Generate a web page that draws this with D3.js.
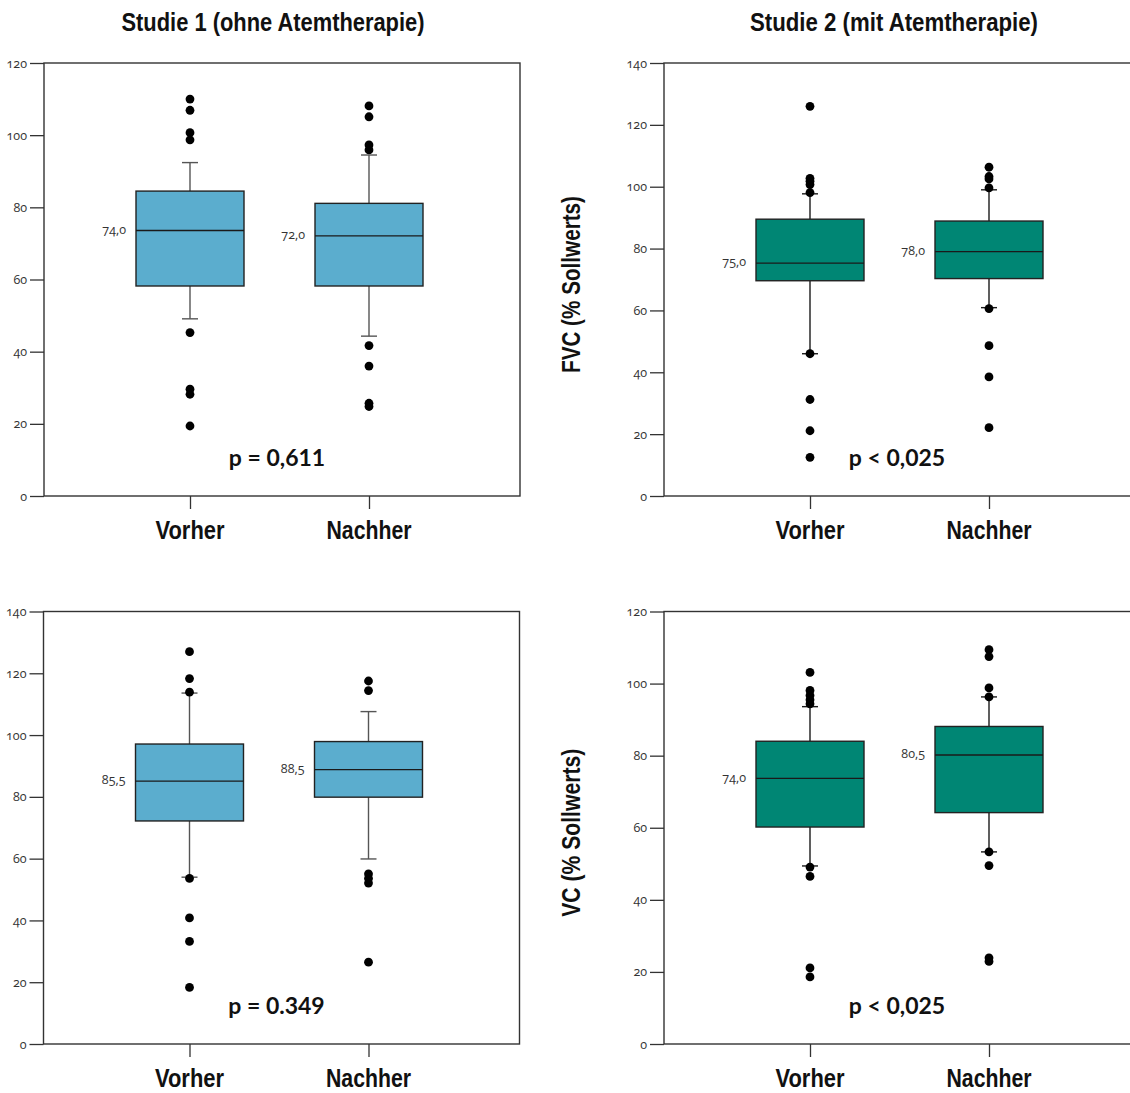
<!DOCTYPE html>
<html><head><meta charset="utf-8">
<script src="https://cdn.jsdelivr.net/npm/d3@7"></script>
<style>
html,body{margin:0;padding:0;background:#fff;}
svg{display:block;}
.tick text{font-family:"Open Sans",Lato,sans-serif;font-size:12.5px;fill:#333;font-variant-numeric:oldstyle-nums;font-feature-settings:"onum" 1;}
</style></head>
<body>
<script>
// ---------- data ----------
const categories = ["Vorher", "Nachher"];
const columnTitles = ["Studie 1 (ohne Atemtherapie)", "Studie 2 (mit Atemtherapie)"];
const rowTitles = ["FVC (% Sollwerts)", "VC (% Sollwerts)"];
const pValues = ["p = 0,611", "p < 0,025", "p = 0.349", "p < 0,025"];
const yMax = [120, 140, 140, 120];
const yTicks1 = [0, 20, 40, 60, 80, 100, 120];
const yTicks2 = [0, 20, 40, 60, 80, 100, 120, 140];

// box statistics: [whiskerLow, q1, median, q3, whiskerHigh]
const s1Fvc = [[49.1, 58.2, 73.6, 84.5, 92.4], [44.3, 58.2, 72.1, 81.1, 94.5]];
const s2Fvc = [[46.0, 69.6, 75.3, 89.5, 97.7], [60.9, 70.3, 79.0, 88.9, 99.0]];
const s1Vc  = [[54.0, 72.2, 85.1, 97.1, 113.6], [59.9, 79.9, 88.8, 97.9, 107.6]];
const s2Vc  = [[49.4, 60.2, 73.7, 84.0, 93.6], [53.3, 64.2, 80.2, 88.1, 96.3]];

// outliers per category
const s1FvcOut = [[110.0, 106.9, 100.7, 98.7, 45.3, 29.6, 28.2, 19.4], [108.1, 105.1, 97.3, 95.9, 41.7, 36.0, 25.7, 24.8]];
const s2FvcOut = [[126.0, 102.7, 101.8, 100.7, 98.1, 46.0, 31.2, 21.1, 12.5], [106.3, 103.3, 102.5, 99.6, 60.6, 48.6, 38.5, 22.1]];
const s1VcOut  = [[127.0, 118.3, 113.9, 53.6, 40.8, 33.2, 18.3], [117.5, 114.4, 55.1, 53.6, 52.1, 26.5]];
const s2VcOut  = [[103.1, 98.1, 96.7, 95.5, 94.4, 49.1, 46.5, 21.1, 18.6], [109.4, 107.5, 98.8, 96.3, 53.3, 49.5, 23.9, 22.9]];

// median labels as printed
const s1FvcMed = ["74,0", "72,0"];
const s2FvcMed = ["75,0", "78,0"];
const s1VcMed  = ["85,5", "88,5"];
const s2VcMed  = ["74,0", "80,5"];

// ---------- drawing ----------
const W = 1130, H = 1093;
const svg = d3.select("body").append("svg").attr("width", W).attr("height", H);

const boldFont = '"Liberation Sans",Arial,sans-serif';
const bodyFont = 'Lato,"Open Sans",sans-serif';
const numFont = '"Open Sans",Lato,sans-serif';

const panels = [
  {x0: 44, y0: 63, y1: 496, max: yMax[0], ticks: yTicks1, box: s1Fvc, out: s1FvcOut, med: s1FvcMed, p: pValues[0], fill: "#5badce", wh: "#555"},
  {x0: 664, y0: 63, y1: 496, max: yMax[1], ticks: yTicks2, box: s2Fvc, out: s2FvcOut, med: s2FvcMed, p: pValues[1], fill: "#008674", wh: "#1a1a1a"},
  {x0: 43.5, y0: 611.5, y1: 1044, max: yMax[2], ticks: yTicks2, box: s1Vc, out: s1VcOut, med: s1VcMed, p: pValues[2], fill: "#5badce", wh: "#555"},
  {x0: 664, y0: 611.5, y1: 1044, max: yMax[3], ticks: yTicks1, box: s2Vc, out: s2VcOut, med: s2VcMed, p: pValues[3], fill: "#008674", wh: "#1a1a1a"}
];
const panelW = 476, boxW = 108, capW = 16;
const labelLen = {"Vorher": 69, "Nachher": 85};

panels.forEach((P, i) => {
  const g = svg.append("g");
  const y = d3.scaleLinear().domain([0, P.max]).range([P.y1, P.y0]);
  const x = d3.scalePoint().domain(categories).range([P.x0 + 146, P.x0 + 325]);

  // frame
  g.append("rect").attr("x", P.x0).attr("y", P.y0).attr("width", panelW).attr("height", P.y1 - P.y0)
    .attr("fill", "none").attr("stroke", "#333").attr("stroke-width", 1.4);

  // y axis
  const ya = g.append("g").attr("transform", `translate(${P.x0},0)`)
    .call(d3.axisLeft(y).tickValues(P.ticks).tickSize(14).tickPadding(3).tickFormat(d3.format("d")));
  ya.select(".domain").remove();
  ya.selectAll(".tick line").attr("stroke", "#333").attr("stroke-width", 1.3);

  // x axis ticks
  const xa = g.append("g").attr("transform", `translate(0,${P.y1})`)
    .call(d3.axisBottom(x).tickSize(13).tickFormat(""));
  xa.select(".domain").remove();
  xa.selectAll(".tick line").attr("stroke", "#333").attr("stroke-width", 1.3);

  // x labels
  g.selectAll("text.xl").data(categories).join("text").attr("class", "xl")
    .attr("x", d => x(d)).attr("y", P.y1 + 43).attr("text-anchor", "middle")
    .attr("textLength", d => labelLen[d]).attr("lengthAdjust", "spacingAndGlyphs")
    .style("font-family", boldFont).style("font-weight", "bold").style("font-size", "26px").attr("fill", "#111")
    .text(d => d);

  categories.forEach((c, k) => {
    const [lo, q1, md, q3, hi] = P.box[k];
    const cx = x(c);
    // whisker
    g.append("line").attr("x1", cx).attr("x2", cx).attr("y1", y(hi)).attr("y2", y(q3)).attr("stroke", P.wh).attr("stroke-width", 1.4);
    g.append("line").attr("x1", cx).attr("x2", cx).attr("y1", y(q1)).attr("y2", y(lo)).attr("stroke", P.wh).attr("stroke-width", 1.4);
    g.append("line").attr("x1", cx - capW / 2).attr("x2", cx + capW / 2).attr("y1", y(hi)).attr("y2", y(hi)).attr("stroke", P.wh).attr("stroke-width", 1.4);
    g.append("line").attr("x1", cx - capW / 2).attr("x2", cx + capW / 2).attr("y1", y(lo)).attr("y2", y(lo)).attr("stroke", P.wh).attr("stroke-width", 1.4);
    // box
    g.append("rect").attr("x", cx - boxW / 2).attr("y", y(q3)).attr("width", boxW).attr("height", y(q1) - y(q3))
      .attr("fill", P.fill).attr("stroke", "#222").attr("stroke-width", 1.4);
    g.append("line").attr("x1", cx - boxW / 2).attr("x2", cx + boxW / 2).attr("y1", y(md)).attr("y2", y(md))
      .attr("stroke", "#1a1a1a").attr("stroke-width", 1.4);
    // median label
    g.append("text").attr("x", cx - boxW / 2 - 10).attr("y", y(md) - 1).attr("dy", "0.35em").attr("text-anchor", "end")
      .style("font-family", numFont).style("font-size", "12.5px").style("font-variant-numeric", "oldstyle-nums")
      .style("font-feature-settings", '"onum" 1')
      .attr("fill", "#333").text(P.med[k]);
    // outliers
    g.selectAll(null).data(P.out[k]).join("circle")
      .attr("cx", cx).attr("cy", d => y(d)).attr("r", 4.4).attr("fill", "#000");
  });

  // p value
  g.append("text").attr("x", P.x0 + 233).attr("y", P.y1 - 30).attr("text-anchor", "middle")
    .style("font-family", bodyFont).style("font-weight", "bold").style("font-size", "23px").attr("fill", "#111")
    .text(P.p);
});

// column titles
const titleLen = [303, 288];
[273, 894].forEach((cx, i) => {
  svg.append("text").attr("x", cx).attr("y", 31).attr("text-anchor", "middle")
    .attr("textLength", titleLen[i]).attr("lengthAdjust", "spacingAndGlyphs")
    .style("font-family", boldFont).style("font-weight", "bold").style("font-size", "25px").attr("fill", "#111")
    .text(columnTitles[i]);
});

// row titles (y axis titles on right column)
const rowLen = [177, 168];
[[63, 496], [611.5, 1044]].forEach((r, i) => {
  const cy = (r[0] + r[1]) / 2 + 5;
  svg.append("text").attr("transform", `translate(580,${cy}) rotate(-90)`).attr("text-anchor", "middle")
    .attr("textLength", rowLen[i]).attr("lengthAdjust", "spacingAndGlyphs")
    .style("font-family", boldFont).style("font-weight", "bold").style("font-size", "25px").attr("fill", "#111")
    .text(rowTitles[i]);
});
</script>
</body></html>
